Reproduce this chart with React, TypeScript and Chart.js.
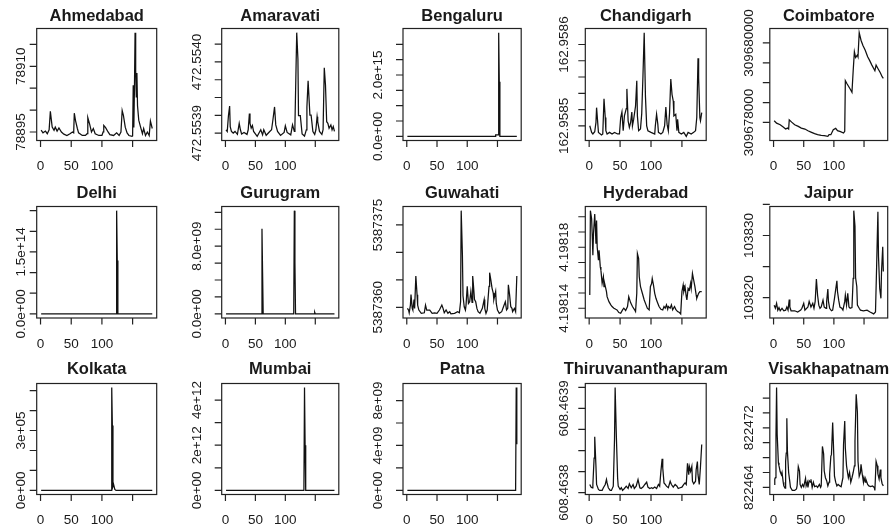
import { useEffect, useRef } from 'react';
import { Chart, registerables } from 'chart.js';

Chart.register(...registerables);

// ---------- data ----------
const dayCount = 182;
const xTicks = [0, 50, 100, 150];
const xTickLabels = ['0', '50', '100', ''];

const ahmedabadDays = [1,4,8,11,14,16,19,22,24,27,30,34,38,43,48,52,54,55,57,60,62,68,73,76,77,80,83,86,89,95,100,102,103,106,110,113,119,124,128,131,133,135,138,141,144,149,150,151,152,153,154,155,156,157,158,160,163,166,168,171,174,177,179,182];
const ahmedabadValues = [78895.4,78894.8,78895.2,78894.6,78895.5,78899.7,78896.1,78895.4,78896.1,78895.2,78895.9,78895.0,78894.5,78894.2,78894.6,78895.0,78894.8,78899.3,78897.6,78895.8,78894.8,78894.2,78894.2,78894.6,78898.3,78896.8,78895.0,78895.8,78894.6,78894.2,78894.2,78895.0,78896.5,78896.0,78895.0,78894.4,78894.2,78894.8,78894.2,78895.0,78899.9,78898.8,78896.1,78894.8,78894.2,78894.0,78894.1,78905.7,78896.0,78905.0,78917.7,78909.1,78903.0,78908.5,78901.0,78897.7,78896.1,78894.6,78895.8,78894.2,78895.0,78894.2,78897.5,78895.8];
const ahmedabadTicks = [78895, 78900, 78905, 78910, 78915];
const ahmedabadTickLabels = ['78895', '', '', '78910', ''];

const amaravatiDays = [1,3,5,7,8,10,13,16,20,23,25,27,31,36,38,40,41,43,45,47,53,59,62,64,68,74,77,79,82,84,87,92,98,100,103,109,112,115,116,119,121,122,125,128,132,135,136,138,141,143,146,149,151,153,154,157,161,163,165,167,169,171,173,176,178,180,182];
const amaravatiValues = [472.5539037,472.5539018,472.5539195,472.5539305,472.5539073,472.5539018,472.5539000,472.5539018,472.5538985,472.5539110,472.5539037,472.5538990,472.5539007,472.5538985,472.5539037,472.5539220,472.5539110,472.5539055,472.5539084,472.5539018,472.5538963,472.5539037,472.5538980,472.5539037,472.5538975,472.5539018,472.5539037,472.5539136,472.5539294,472.5539092,472.5539018,472.5538974,472.5539007,472.5539081,472.5539007,472.5538980,472.5539092,472.5539018,472.5539092,472.5540130,472.5539833,472.5539195,472.5539195,472.5538990,472.5538966,472.5539037,472.5539294,472.5539587,472.5539202,472.5539202,472.5539018,472.5538985,472.5539037,472.5539184,472.5539128,472.5539018,472.5538985,472.5539037,472.5539734,472.5539540,472.5539128,472.5539110,472.5539055,472.5539092,472.5539037,472.5539073,472.5539018];
const amaravatiTicks = [472.5539, 472.55392, 472.55394, 472.55396, 472.55398, 472.554];
const amaravatiTickLabels = ['472.5539', '', '', '', '472.5540', ''];

const bengaluruDays = [1, 146, 147, 151, 152, 153, 154, 182];
const bengaluruValues = [0, 0, 5e13, 5e13, 3.38e15, 1.78e15, 0, 0];
const bengaluruTicks = [0, 5e14, 1e15, 1.5e15, 2e15, 2.5e15, 3e15];
const bengaluruTickLabels = ['0.0e+00', '', '', '', '2.0e+15', '', ''];

const chandigarhDays = [1,4,6,9,11,12,14,15,20,22,24,26,27,29,33,37,41,46,49,51,53,55,57,60,61,63,65,67,69,70,72,75,77,78,80,83,85,87,89,91,93,95,100,106,107,109,111,112,116,119,122,124,126,128,130,132,134,136,137,140,142,143,145,149,153,157,160,165,169,172,174,176,177,179,180,182];
const chandigarhValues = [162.9585000,162.9584919,162.9584899,162.9584927,162.9585041,162.9585223,162.9585020,162.9584919,162.9584887,162.9584899,162.9585332,162.9585101,162.9584939,162.9584899,162.9584919,162.9584899,162.9584919,162.9584899,162.9584899,162.9585101,162.9585170,162.9584939,162.9585122,162.9585211,162.9585454,162.9585061,162.9584980,162.9585041,162.9585170,162.9585000,162.9585081,162.9585243,162.9585555,162.9585122,162.9584939,162.9584960,162.9585150,162.9585616,162.9586146,162.9585365,162.9585000,162.9584939,162.9584919,162.9584899,162.9585000,162.9585142,162.9585020,162.9584919,162.9584899,162.9584919,162.9585000,162.9585231,162.9585020,162.9584939,162.9585162,162.9585575,162.9585385,162.9585304,162.9585122,162.9585142,162.9584939,162.9585081,162.9584919,162.9584899,162.9584919,162.9584870,162.9584919,162.9584899,162.9584919,162.9584939,162.9585101,162.9585830,162.9585587,162.9585101,162.9585061,162.9585162];
const chandigarhTicks = [162.9585, 162.95852, 162.95854, 162.95856, 162.95858, 162.9586];
const chandigarhTickLabels = ['162.9585', '', '', '', '', '162.9586'];

const coimbatoreDays = [1,5,11,16,20,23,25,26,30,35,41,46,52,57,62,68,73,79,84,90,92,95,99,103,106,111,116,118,119,122,127,130,132,134,136,139,140,142,145,148,152,156,159,163,166,168,170,173,177,180,182];
const coimbatoreValues = [309678042,309677983,309677942,309677883,309677833,309677858,309677833,309678067,309678008,309677942,309677900,309677858,309677833,309677792,309677758,309677717,309677692,309677675,309677667,309677650,309677692,309677692,309677817,309677850,309677792,309677767,309677733,309677775,309679050,309678967,309678842,309678758,309679300,309679775,309679633,309679692,309679650,309680258,309680067,309679942,309679817,309679650,309679567,309679442,309679358,309679300,309679442,309679358,309679250,309679150,309679108];
const coimbatoreTicks = [309678000, 309678500, 309679000, 309679500, 309680000];
const coimbatoreTickLabels = ['309678000', '', '', '', '309680000'];

const delhiDays = [1, 123, 124, 125, 126, 182];
const delhiValues = [0, 0, 2.5e14, 1.29e14, 0, 0];
const delhiTicks = [0, 5e13, 1e14, 1.5e14, 2e14, 2.5e14];
const delhiTickLabels = ['0.0e+00', '', '', '1.5e+14', '', ''];

const gurugramDays = [1, 60, 61, 62, 63, 114, 115, 116, 117, 148, 149, 150, 182];
const gurugramValues = [0, 0, 1.006e10, 4.93e9, 0, 0, 1.22e10, 6.1e9, 0, 0, 2e8, 0, 0];
const gurugramTicks = [0, 2e9, 4e9, 6e9, 8e9, 1e10, 1.2e10];
const gurugramTickLabels = ['0.0e+00', '', '', '', '8.0e+09', '', ''];

const guwahatiDays = [1,3,4,6,7,9,10,12,13,15,17,18,20,24,29,31,33,38,42,46,50,54,58,60,62,65,68,71,73,79,84,87,89,90,92,93,95,97,98,100,102,104,106,108,109,110,112,114,116,118,121,125,128,129,131,133,136,137,139,141,143,144,147,148,150,153,157,161,163,165,167,168,170,172,174,175,178,180,182];
const guwahatiValues = [5387359.8,5387359.5,5387359.0,5387360.4,5387362.3,5387359.8,5387359.5,5387361.4,5387359.8,5387365.7,5387362.3,5387360.4,5387359.5,5387358.9,5387359.0,5387360.4,5387359.5,5387359.5,5387358.9,5387359.0,5387358.9,5387359.5,5387360.4,5387359.8,5387359.0,5387359.5,5387358.9,5387359.2,5387358.8,5387358.9,5387359.2,5387359.0,5387361.0,5387377.6,5387369.6,5387362.1,5387360.1,5387359.5,5387360.4,5387363.8,5387360.7,5387361.0,5387362.9,5387360.9,5387365.7,5387364.4,5387361.4,5387361.0,5387359.8,5387359.2,5387358.9,5387359.8,5387361.4,5387359.8,5387358.9,5387359.5,5387363.8,5387366.3,5387365.0,5387363.5,5387362.6,5387361.4,5387362.9,5387360.7,5387359.5,5387358.9,5387359.2,5387360.4,5387361.0,5387359.5,5387359.8,5387364.1,5387362.3,5387360.1,5387359.8,5387359.2,5387359.8,5387359.2,5387365.7];
const guwahatiTicks = [5387360, 5387365, 5387370, 5387375];
const guwahatiTickLabels = ['5387360', '', '', '5387375'];

const hyderabadDays = [1,2,4,5,6,7,9,10,11,12,13,15,16,18,19,21,23,24,25,28,29,32,35,37,40,43,45,48,51,54,56,59,62,64,67,70,73,75,77,78,80,81,83,86,89,92,94,97,99,101,102,104,106,108,110,113,116,119,121,123,125,127,128,131,133,135,138,140,143,146,148,150,152,153,155,157,158,160,162,164,165,167,169,171,173,174,177,179,182];
const hyderabadValues = [4.1981487,4.1982040,4.1981986,4.1981877,4.1981747,4.1981888,4.1982018,4.1981932,4.1981823,4.1981975,4.1981801,4.1981715,4.1981780,4.1981671,4.1981650,4.1981563,4.1981606,4.1981541,4.1981563,4.1981509,4.1981476,4.1981443,4.1981422,4.1981411,4.1981400,4.1981393,4.1981389,4.1981372,4.1981367,4.1981389,4.1981400,4.1981385,4.1981411,4.1981476,4.1981437,4.1981411,4.1981393,4.1981378,4.1981498,4.1981758,4.1981725,4.1981606,4.1981541,4.1981498,4.1981454,4.1981422,4.1981400,4.1981389,4.1981541,4.1981563,4.1981595,4.1981552,4.1981498,4.1981465,4.1981443,4.1981411,4.1981393,4.1981389,4.1981411,4.1981400,4.1981422,4.1981393,4.1981411,4.1981400,4.1981422,4.1981389,4.1981411,4.1981393,4.1981378,4.1981372,4.1981363,4.1981509,4.1981552,4.1981509,4.1981541,4.1981476,4.1981454,4.1981530,4.1981519,4.1981563,4.1981530,4.1981628,4.1981584,4.1981541,4.1981487,4.1981465,4.1981498,4.1981509,4.1981509];
const hyderabadTicks = [4.19814, 4.19815, 4.19816, 4.19817, 4.19818, 4.19819, 4.1982];
const hyderabadTickLabels = ['4.19814', '', '', '', '4.19818', '', ''];

const jaipurDays = [1,3,5,7,9,11,14,17,20,22,24,26,27,29,35,40,45,47,50,52,57,59,62,65,67,69,71,73,75,77,79,82,84,87,88,90,91,93,96,98,101,105,106,108,110,113,115,118,119,121,123,125,127,130,132,133,135,136,138,139,142,144,149,155,160,166,169,171,173,174,176,178,179,181,182];
const jaipurValues = [103818.8,103818.3,103819.1,103818.0,103818.4,103817.9,103818.3,103817.9,103818.0,103818.5,103818.0,103819.7,103818.5,103817.9,103817.9,103817.7,103818.0,103818.3,103819.1,103818.0,103818.5,103819.4,103818.5,103819.1,103818.3,103819.4,103823.0,103820.4,103818.8,103818.3,103818.5,103819.6,103818.5,103818.3,103819.4,103821.4,103819.4,103818.3,103817.9,103818.0,103819.9,103822.7,103821.0,103819.6,103818.5,103818.3,103818.0,103819.4,103820.4,103818.8,103820.7,103818.5,103818.3,103818.4,103823.1,103834.0,103831.5,103823.2,103821.8,103818.8,103818.3,103818.0,103817.9,103818.0,103817.7,103817.4,103817.7,103825.5,103833.8,103826.6,103821.5,103819.9,103824.2,103828.2,103824.2];
const jaipurTicks = [103820, 103825, 103830, 103835];
const jaipurTickLabels = ['103820', '', '103830', ''];

const kolkataDays = [1, 115, 116, 117, 118, 119, 121, 123, 182];
const kolkataValues = [0, 0, 5.15e5, 3.25e5, 2e4, 3e4, 5e3, 0, 0];
const kolkataTicks = [0, 1e5, 2e5, 3e5, 4e5, 5e5];
const kolkataTickLabels = ['0e+00', '', '', '3e+05', '', ''];

const mumbaiDays = [1, 131, 132, 133, 134, 182];
const mumbaiValues = [0, 0, 4.55e12, 2e12, 0, 0];
const mumbaiTicks = [0, 1e12, 2e12, 3e12, 4e12];
const mumbaiTickLabels = ['0e+00', '', '2e+12', '', '4e+12'];

const patnaDays = [1, 180, 181, 182];
const patnaValues = [0, 0, 9.15e9, 4.1e9];
const patnaTicks = [0, 2e9, 4e9, 6e9, 8e9];
const patnaTickLabels = ['0e+00', '', '4e+09', '', '8e+09'];

const thiruDays = [1,3,5,6,8,9,11,12,15,17,21,23,26,28,29,31,34,36,39,41,42,44,46,47,50,52,54,57,60,63,65,68,71,73,76,79,82,84,87,90,93,95,98,101,103,106,109,112,114,116,118,119,121,123,125,128,131,133,136,139,142,144,147,150,153,155,157,159,161,162,164,166,167,169,172,173,175,176,178,180,182];
const thiruValues = [608.4638078,608.4638053,608.4638047,608.4638078,608.4638327,608.4638530,608.4638249,608.4638078,608.4638031,608.4638022,608.4638022,608.4638047,608.4638078,608.4638125,608.4638093,608.4638047,608.4638022,608.4638022,608.4638062,608.4638508,608.4638997,608.4638530,608.4638140,608.4638062,608.4638031,608.4638047,608.4638022,608.4638040,608.4638062,608.4638040,608.4638084,608.4638047,608.4638078,608.4638040,608.4638062,608.4638125,608.4638047,608.4638040,608.4638053,608.4638078,608.4638100,608.4638053,608.4638040,608.4638047,608.4638040,608.4638053,608.4638040,608.4638078,608.4638062,608.4638202,608.4638321,608.4638234,608.4638093,608.4638078,608.4638062,608.4638047,608.4638109,608.4638078,608.4638053,608.4638078,608.4638062,608.4638040,608.4638047,608.4638053,608.4638078,608.4638093,608.4638078,608.4638280,608.4638171,608.4638249,608.4638202,608.4638249,608.4638109,608.4638084,608.4638109,608.4638218,608.4638296,608.4638171,608.4638078,608.4638249,608.4638458];
const thiruTicks = [608.4638, 608.46382, 608.46384, 608.46386, 608.46388, 608.4639];
const thiruTickLabels = ['608.4638', '', '', '', '608.4639', ''];

const visakhDays = [1,2,3,4,5,6,8,9,11,13,14,16,17,19,20,21,22,23,25,27,28,31,33,35,38,39,41,43,44,46,48,50,53,54,56,57,59,61,62,64,66,68,71,73,76,78,79,81,83,84,86,88,90,92,93,95,96,98,100,101,103,105,107,110,112,115,116,118,119,121,123,124,126,128,130,132,134,135,137,139,140,142,144,145,147,149,150,152,153,156,158,161,164,167,168,170,172,173,175,177,178,180,182];
const visakhValues = [822464.4,822465.1,822465.3,822471.0,822477.4,822471.1,822467.3,822466.9,822466.1,822465.7,822466.0,822464.7,822464.2,822463.9,822467.5,822468.6,822473.3,822468.8,822466.0,822464.7,822464.0,822463.6,822463.6,822463.6,822463.8,822464.2,822466.8,822466.2,822464.4,822464.0,822464.4,822464.1,822465.2,822464.2,822464.7,822464.0,822464.9,822464.7,822465.1,822464.0,822464.7,822464.1,822464.2,822464.0,822464.4,822464.0,822464.2,822469.5,822468.5,822466.2,822465.3,822464.9,822464.2,822464.7,822465.8,822468.2,822468.4,822472.7,822468.0,822465.5,822464.7,822464.2,822464.4,822464.2,822464.1,822465.3,822469.7,822472.9,822469.3,822466.9,822465.8,822465.3,822466.0,822464.7,822465.3,822466.0,822466.9,822470.2,822476.5,822474.1,822467.5,822465.5,822466.0,822467.1,822465.8,822464.7,822465.3,822464.7,822465.1,822464.4,822464.2,822464.1,822464.2,822464.0,822463.6,822467.5,822466.9,822465.8,822465.1,822466.4,822465.3,822464.5,822464.2];
const visakhTicks = [822464, 822466, 822468, 822470, 822472, 822474, 822476];
const visakhTickLabels = ['822464', '', '', '', '822472', '', ''];

type Panel = { name: string; days: number[]; values: number[]; ticks: number[]; labels: string[] };

const panels: Panel[] = [
  { name: 'Ahmedabad', days: ahmedabadDays, values: ahmedabadValues, ticks: ahmedabadTicks, labels: ahmedabadTickLabels },
  { name: 'Amaravati', days: amaravatiDays, values: amaravatiValues, ticks: amaravatiTicks, labels: amaravatiTickLabels },
  { name: 'Bengaluru', days: bengaluruDays, values: bengaluruValues, ticks: bengaluruTicks, labels: bengaluruTickLabels },
  { name: 'Chandigarh', days: chandigarhDays, values: chandigarhValues, ticks: chandigarhTicks, labels: chandigarhTickLabels },
  { name: 'Coimbatore', days: coimbatoreDays, values: coimbatoreValues, ticks: coimbatoreTicks, labels: coimbatoreTickLabels },
  { name: 'Delhi', days: delhiDays, values: delhiValues, ticks: delhiTicks, labels: delhiTickLabels },
  { name: 'Gurugram', days: gurugramDays, values: gurugramValues, ticks: gurugramTicks, labels: gurugramTickLabels },
  { name: 'Guwahati', days: guwahatiDays, values: guwahatiValues, ticks: guwahatiTicks, labels: guwahatiTickLabels },
  { name: 'Hyderabad', days: hyderabadDays, values: hyderabadValues, ticks: hyderabadTicks, labels: hyderabadTickLabels },
  { name: 'Jaipur', days: jaipurDays, values: jaipurValues, ticks: jaipurTicks, labels: jaipurTickLabels },
  { name: 'Kolkata', days: kolkataDays, values: kolkataValues, ticks: kolkataTicks, labels: kolkataTickLabels },
  { name: 'Mumbai', days: mumbaiDays, values: mumbaiValues, ticks: mumbaiTicks, labels: mumbaiTickLabels },
  { name: 'Patna', days: patnaDays, values: patnaValues, ticks: patnaTicks, labels: patnaTickLabels },
  { name: 'Thiruvananthapuram', days: thiruDays, values: thiruValues, ticks: thiruTicks, labels: thiruTickLabels },
  { name: 'Visakhapatnam', days: visakhDays, values: visakhValues, ticks: visakhTicks, labels: visakhTickLabels },
];

// ---------- layout (page pixels) ----------
const PAGE_W = 893;
const PAGE_H = 530;
const colLeft = [36.7, 221.7, 403, 585.3, 769.8];
const colRight = [156.7, 338.8, 521.2, 706.2, 887.7];
const rowTop = [28.5, 206.5, 383.5];
const rowBottom = [140.5, 318, 494.5];
const titleGap = [7.2, 8.2, 9.5];
const yLabelGap = [12, 20.7, 21, 17, 17];
const INK = '#111111';
const FONT = '"Liberation Sans", Arial, Helvetica, sans-serif';

function SmallPlot({ panel, index }: { panel: Panel; index: number }) {
  const ref = useRef<HTMLCanvasElement | null>(null);
  const col = index % 5;
  const row = Math.floor(index / 5);
  const L = colLeft[col];
  const R = colRight[col];
  const T = rowTop[row];
  const B = rowBottom[row];
  const cx0 = Math.max(0, Math.floor(L - 48));
  const cx1 = Math.min(PAGE_W, Math.ceil(L + 185));
  const cy0 = Math.max(0, Math.floor(T - 40));
  const cy1 = Math.min(PAGE_H, Math.ceil(B + 40));
  const W = cx1 - cx0;
  const H = cy1 - cy0;

  useEffect(() => {
    const canvas = ref.current;
    if (!canvas) return;
    const lo = Math.min(...panel.values);
    const hi = Math.max(...panel.values);
    const yPad = (hi - lo) * 0.04;
    const xPad = (dayCount - 1) * 0.04;

    const framePlugin = {
      id: 'rframe',
      afterDraw(chart: any) {
        const { ctx, chartArea: a, scales } = chart;
        const xs = scales.x;
        const ys = scales.y;
        ctx.save();
        ctx.strokeStyle = '#222';
        ctx.lineWidth = 1.2;
        ctx.strokeRect(a.left, a.top, a.right - a.left, a.bottom - a.top);
        ctx.beginPath();
        xTicks.forEach((v) => {
          const px = xs.getPixelForValue(v);
          ctx.moveTo(px, a.bottom);
          ctx.lineTo(px, a.bottom + 6.5);
        });
        panel.ticks.forEach((v) => {
          const py = ys.getPixelForValue(v);
          ctx.moveTo(a.left, py);
          ctx.lineTo(a.left - 7, py);
        });
        ctx.stroke();

        ctx.fillStyle = '#1a1a1a';
        ctx.font = `13.5px ${FONT}`;
        ctx.textAlign = 'center';
        ctx.textBaseline = 'alphabetic';
        xTicks.forEach((v, i) => {
          const lab = xTickLabels[i];
          if (lab) ctx.fillText(lab, xs.getPixelForValue(v), a.bottom + 29.5);
        });
        panel.ticks.forEach((v, i) => {
          const lab = panel.labels[i];
          if (!lab) return;
          const py = ys.getPixelForValue(v);
          ctx.save();
          ctx.translate(a.left - yLabelGap[col], py);
          ctx.rotate(-Math.PI / 2);
          ctx.fillText(lab, 0, 0);
          ctx.restore();
        });

        ctx.font = `bold 16.5px ${FONT}`;
        ctx.fillText(panel.name, (a.left + a.right) / 2, a.top - titleGap[row]);
        ctx.restore();
      },
    };

    const chart = new Chart(canvas, {
      type: 'line',
      data: {
        datasets: [
          {
            data: panel.days.map((d, i) => ({ x: d, y: panel.values[i] })),
            borderColor: INK,
            borderWidth: 1.25,
            pointRadius: 0,
            tension: 0,
            fill: false,
          },
        ],
      },
      options: {
        responsive: false,
        animation: false,
        events: [],
        layout: { padding: { left: L - cx0, right: cx1 - R, top: T - cy0, bottom: cy1 - B } },
        scales: {
          x: { type: 'linear', display: false, bounds: 'data', min: 1 - xPad, max: dayCount + xPad },
          y: { type: 'linear', display: false, bounds: 'data', min: lo - yPad, max: hi + yPad },
        },
        plugins: { legend: { display: false }, tooltip: { enabled: false }, title: { display: false } },
      },
      plugins: [framePlugin],
    } as any);
    return () => chart.destroy();
  }, []);

  return (
    <canvas
      ref={ref}
      width={W}
      height={H}
      style={{ position: 'absolute', left: cx0, top: cy0, width: W, height: H }}
    />
  );
}

export default function App() {
  return (
    <div style={{ position: 'absolute', left: 0, top: 0, width: PAGE_W, height: PAGE_H, background: '#fff' }}>
      {panels.map((p, i) => (
        <SmallPlot key={p.name} panel={p} index={i} />
      ))}
    </div>
  );
}
